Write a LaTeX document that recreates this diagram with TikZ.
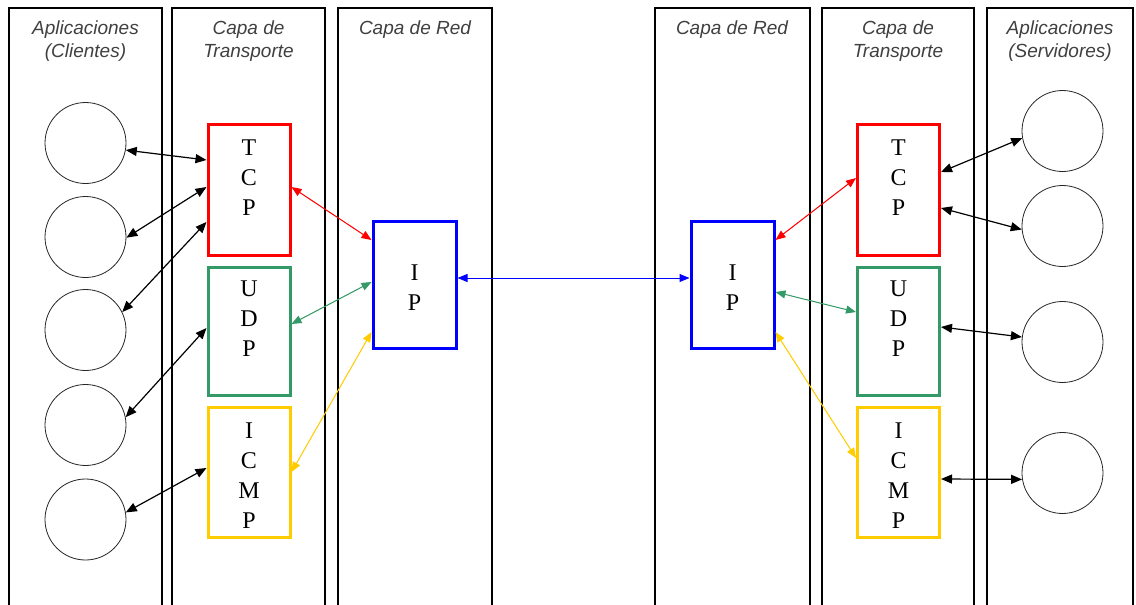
\documentclass[tikz,border=0pt]{standalone}
\usepackage{fontspec}
\setmainfont{Liberation Serif}
\newfontfamily\hdrfont{Liberation Sans}
\usetikzlibrary{arrows.meta}
\definecolor{tcpred}{HTML}{FF0000}
\definecolor{udpgreen}{HTML}{339966}
\definecolor{icmpyellow}{HTML}{FFCC00}
\definecolor{ipblue}{HTML}{0000FF}
\begin{document}
\begin{tikzpicture}[x=1pt,y=-1pt,
  col/.style={line width=1.4pt, draw=black},
  hdr/.style={font=\hdrfont\itshape\fontsize{19}{23}\selectfont, text=black!75, align=center, inner sep=0pt},
  app/.style={circle, draw=black!85, line width=0.8pt, minimum size=81pt, inner sep=0pt},
  proto/.style={rectangle, line width=3pt, minimum width=82pt, inner sep=0pt},
  letters/.style={font=\fontsize{24}{30}\selectfont, align=center, inner sep=0pt},
  link/.style={{Triangle[length=10pt,width=8pt]}-{Triangle[length=10pt,width=8pt]}, line width=1pt},
  blink/.style={{Triangle[length=11pt,width=9pt]}-{Triangle[length=11pt,width=9pt]}, line width=1.2pt, draw=black}
]
\useasboundingbox (0,0) rectangle (1136,605);
\fill[white] (0,0) rectangle (1136,605);

% columns
\foreach \a/\b in {9/162,172/325,338/492,655/810,822/974,987/1133}{
  \draw[col] (\a,612) -- (\a,8) -- (\b,8) -- (\b,612);
}

% headers
\node[hdr] (h1) at (85.5,41.5) {Aplicaciones\\(Clientes)};
\node[hdr] (h2) at (248.5,41.5) {Capa de\\Transporte};
\node[hdr] (h3) at (415,30) {Capa de Red};
\node[hdr] (h4) at (732,30) {Capa de Red};
\node[hdr] (h5) at (898,41.5) {Capa de\\Transporte};
\node[hdr] (h6) at (1060,41.5) {Aplicaciones\\(Servidores)};

% client circles
\node[app] (c1) at (85.5,143) {};
\node[app] (c2) at (85.5,237) {};
\node[app] (c3) at (85.5,330) {};
\node[app] (c4) at (85.5,425) {};
\node[app] (c5) at (85.5,519.5) {};

% server circles
\node[app] (s1) at (1062.5,131) {};
\node[app] (s2) at (1062.5,226) {};
\node[app] (s3) at (1062.5,342) {};
\node[app] (s4) at (1062.5,473) {};

% left protocol boxes
\node[proto, draw=tcpred, minimum height=131pt] (tcpL) at (249,189.5) {};
\node[proto, draw=udpgreen, minimum height=128pt] (udpL) at (249,331) {};
\node[proto, draw=icmpyellow, minimum height=130pt] (icmpL) at (249,472) {};
\node[proto, draw=ipblue, minimum width=83pt, minimum height=127pt] (ipL) at (414.5,284.5) {};

% right protocol boxes
\node[proto, draw=ipblue, minimum width=83pt, minimum height=127pt] (ipR) at (732.5,284.5) {};
\node[proto, draw=tcpred, minimum height=131pt] (tcpR) at (898.5,189.5) {};
\node[proto, draw=udpgreen, minimum height=128pt] (udpR) at (898.5,331) {};
\node[proto, draw=icmpyellow, minimum height=130pt] (icmpR) at (898.5,472) {};

% letters
\node[letters] (ttcpL) at (249,178) {T\\C\\P};
\node[letters] (tudpL) at (249,318.5) {U\\D\\P};
\node[letters] (ticmpL) at (249,475.5) {I\\C\\M\\P};
\node[letters] (tipL) at (414.5,287.5) {I\\P};
\node[letters] (tipR) at (732.5,287.5) {I\\P};
\node[letters] (ttcpR) at (898.5,178) {T\\C\\P};
\node[letters] (tudpR) at (898.5,318.5) {U\\D\\P};
\node[letters] (ticmpR) at (898.5,475.5) {I\\C\\M\\P};

% client links
\draw[blink] (c1.-10) -- ([yshift=29.5pt]tcpL.west);
\draw[blink] (c2.-1) -- ([yshift=2.5pt]tcpL.west);
\draw[blink] (c3.26) -- ([yshift=-32.5pt]tcpL.west);
\draw[blink] (c4.11) -- ([yshift=3pt]udpL.west);
\draw[blink] (c5.10) -- ([yshift=4pt]icmpL.west);

% left transport to IP
\draw[link, draw=tcpred, fill=tcpred] ([yshift=2.5pt]tcpL.east) -- ([yshift=44.5pt]ipL.west);
\draw[link, draw=udpgreen, fill=udpgreen] ([yshift=7pt]udpL.east) -- ([yshift=2.5pt]ipL.west);
\draw[link, draw=icmpyellow, fill=icmpyellow] (icmpL.east) -- ([yshift=-47.5pt]ipL.west);

% IP to IP
\draw[link, draw=ipblue, fill=ipblue] ([yshift=6.5pt]ipL.east) -- ([yshift=6.5pt]ipR.west);

% right IP to transport
\draw[link, draw=tcpred, fill=tcpred] ([yshift=44.5pt]ipR.east) -- ([yshift=11.5pt]tcpR.west);
\draw[link, draw=udpgreen, fill=udpgreen] ([yshift=-7.5pt]ipR.east) -- ([yshift=19pt]udpR.west);
\draw[link, draw=icmpyellow, fill=icmpyellow] ([yshift=-47.5pt]ipR.east) -- ([yshift=14pt]icmpR.west);

% server links
\draw[blink] ([yshift=17.5pt]tcpR.east) -- (s1.-170);
\draw[blink] ([yshift=-18.5pt]tcpR.east) -- (s2.-175);
\draw[blink] ([yshift=4pt]udpR.east) -- (s3.173);
\draw[blink] ([yshift=-7pt]icmpR.east) -- (s4.-171);
\end{tikzpicture}
\end{document}
